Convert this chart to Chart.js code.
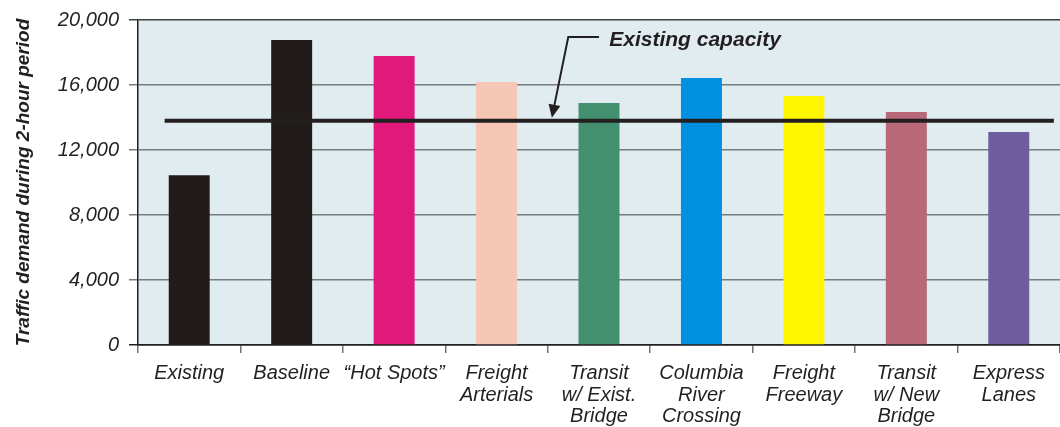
<!DOCTYPE html>
<html>
<head>
<meta charset="utf-8">
<script src="https://cdn.jsdelivr.net/npm/chart.js@4/dist/chart.umd.min.js"></script>
<style>
  html, body { margin: 0; padding: 0; background: #ffffff; }
  #wrap { width: 1060px; height: 427px; position: relative; }
</style>
</head>
<body>
<div id="wrap"><canvas id="demand"></canvas></div>
<script>
// Traffic demand per scenario, 2-hour period
const categories = [
  'Existing', 'Baseline', '\u201cHot Spots\u201d', ['Freight', 'Arterials'],
  ['Transit', 'w/ Exist.', 'Bridge'], ['Columbia', 'River', 'Crossing'],
  ['Freight', 'Freeway'], ['Transit', 'w/ New', 'Bridge'], ['Express', 'Lanes']
];
const demand = [10450, 18770, 17780, 16180, 14890, 16430, 15320, 14340, 13110];
const barColors = ['#211c1a', '#211c1a', '#e0197b', '#f6c7b5', '#42906f',
                   '#0190df', '#fff700', '#b86878', '#6e5ea0'];
const yTicks = [0, 4000, 8000, 12000, 16000, 20000];

// Existing capacity reference line (value, span along category positions)
const capacity = 13800;
const capacitySpan = [0.26, 8.94];
const capacityLabel = 'Existing capacity';
// Callout leader: label anchor, elbow and arrow tip (category position, value)
const calloutText = [4.6, 18770];
const calloutStart = [4.5, 18950];
const calloutElbow = [4.2, 18950];
const calloutTip = [4.04, 13990];

const FONT = '"Liberation Sans", Arial, Helvetica, sans-serif';
const INK = '#231f20';

const plotBackground = {
  id: 'plotBackground',
  beforeDraw(chart) {
    const { ctx, chartArea: a } = chart;
    ctx.save();
    ctx.fillStyle = '#e1ecf1';
    ctx.fillRect(a.left, a.top, a.right - a.left, a.bottom - a.top);
    ctx.restore();
  }
};

const capacityCallout = {
  id: 'capacityCallout',
  afterDatasetsDraw(chart) {
    const { ctx } = chart;
    const xs = chart.scales.xCap, ys = chart.scales.y;
    const px = p => [xs.getPixelForValue(p[0]), ys.getPixelForValue(p[1])];
    const s = px(calloutStart), e = px(calloutElbow), t = px(calloutTip);
    ctx.save();
    ctx.strokeStyle = INK;
    ctx.fillStyle = INK;
    ctx.lineWidth = 2;
    ctx.beginPath();
    ctx.moveTo(s[0], s[1]);
    ctx.lineTo(e[0], e[1]);
    // stop the shaft short of the arrowhead
    const ang = Math.atan2(t[1] - e[1], t[0] - e[0]);
    const headLen = 13, headHalf = 6;
    const bx = t[0] - Math.cos(ang) * headLen, by = t[1] - Math.sin(ang) * headLen;
    ctx.lineTo(bx, by);
    ctx.stroke();
    ctx.beginPath();
    ctx.moveTo(t[0], t[1]);
    ctx.lineTo(bx + Math.sin(ang) * headHalf, by - Math.cos(ang) * headHalf);
    ctx.lineTo(bx - Math.sin(ang) * headHalf, by + Math.cos(ang) * headHalf);
    ctx.closePath();
    ctx.fill();
    const tp = px(calloutText);
    ctx.font = 'italic bold 21px ' + FONT;
    ctx.textAlign = 'left';
    ctx.textBaseline = 'middle';
    ctx.fillText(capacityLabel, tp[0], tp[1]);
    ctx.restore();
  }
};

new Chart(document.getElementById('demand'), {
  type: 'bar',
  data: {
    labels: categories,
    datasets: [
      {
        type: 'line',
        label: capacityLabel,
        xAxisID: 'xCap',
        data: capacitySpan.map(x => ({ x, y: capacity })),
        borderColor: INK,
        borderWidth: 4,
        pointRadius: 0,
        borderCapStyle: 'butt',
        order: 0
      },
      {
        type: 'bar',
        label: 'Traffic demand',
        xAxisID: 'x',
        data: demand,
        backgroundColor: barColors,
        borderWidth: 0,
        grouped: false,
        categoryPercentage: 1,
        barPercentage: 0.4,
        order: 1
      }
    ]
  },
  options: {
    responsive: true,
    maintainAspectRatio: false,
    animation: false,
    events: [],
    layout: { padding: { top: 20, right: 0, bottom: 0, left: 0 } },
    plugins: { legend: { display: false }, tooltip: { enabled: false } },
    scales: {
      x: {
        type: 'category',
        offset: true,
        afterFit(scale) { scale.height = 82; },
        grid: {
          offset: true,
          drawOnChartArea: false,
          drawTicks: true,
          tickLength: 8,
          color: '#6f7478',
          lineWidth: 1.5
        },
        border: { color: INK, width: 1.5 },
        ticks: {
          color: INK,
          padding: 10,
          maxRotation: 0,
          autoSkip: false,
          font: { family: FONT, size: 20, style: 'italic', lineHeight: 1.07 }
        }
      },
      xCap: {
        type: 'linear',
        display: false,
        offset: false,
        grid: { offset: false },
        min: 0,
        max: 9
      },
      y: {
        type: 'linear',
        min: 0,
        max: 20000,
        afterFit(scale) {
          scale.width = 138;
          scale.paddingTop = 0;
          scale.paddingBottom = 0;
        },
        afterBuildTicks(scale) { scale.ticks = yTicks.map(v => ({ value: v })); },
        grid: {
          drawTicks: true,
          tickLength: 9,
          lineWidth: 1.5,
          color: ctx => ctx.tick && ctx.tick.value === 20000 ? '#3f4244'
                       : ctx.tick && ctx.tick.value === 0 ? INK : '#777c80'
        },
        border: { color: INK, width: 1.5 },
        ticks: {
          color: INK,
          padding: 10,
          font: { family: FONT, size: 20, style: 'italic' },
          callback: v => v.toLocaleString('en-US')
        },
        title: {
          display: true,
          text: 'Traffic demand during 2-hour period',
          color: INK,
          padding: { top: 12, bottom: 0 },
          font: { family: FONT, size: 19, style: 'italic', weight: 'bold' }
        }
      }
    }
  },
  plugins: [plotBackground, capacityCallout]
});
</script>
</body>
</html>
